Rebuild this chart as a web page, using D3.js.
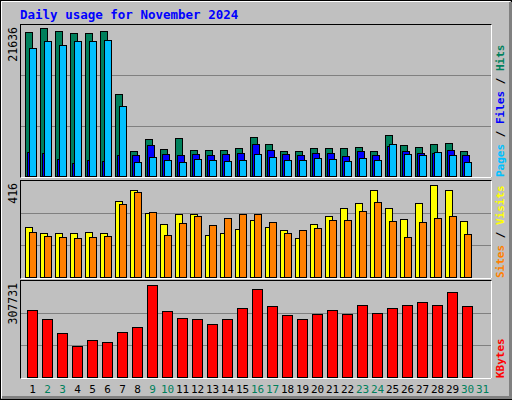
<!DOCTYPE html>
<html>
<head>
<meta charset="utf-8">
<script src="https://cdn.jsdelivr.net/npm/d3@7"></script>
<style>
  body { margin: 0; background: #fff; }
  text { font-family: "DejaVu Sans Mono", monospace; }
</style>
</head>
<body>
<svg id="chart" width="512" height="400"></svg>
<script>
// daily values
const days = d3.range(1, 32);
const weekendDays = [2, 3, 9, 10, 16, 17, 23, 24, 30, 31];
const hits = [20626, 21200, 20770, 20482, 20482, 20770, 11683, 3606, 5337, 3894, 5481, 3750, 3750, 3750, 4039, 5625,
  4616, 3606, 3606, 4039, 4039, 4039, 4183, 3606, 5914, 4472, 4183, 4616, 4760, 3606, 0];
const files = [3462, 3317, 2452, 1875, 2308, 2164, 3029, 3029, 4471, 3173, 3029, 3173, 3029, 3173, 3317, 4616,
  3750, 3173, 3029, 3317, 3317, 2885, 3606, 3029, 4327, 3606, 3317, 3317, 3750, 3029, 0];
const pages = [18318, 19329, 18751, 19329, 19329, 19473, 10097, 2019, 2740, 2308, 2019, 2452, 2308, 2164, 2308, 3173,
  2740, 2308, 2308, 2596, 2452, 2164, 2596, 2308, 4616, 3173, 3029, 3462, 3029, 2019, 0];
const visits = [216, 192, 192, 192, 196, 192, 331, 377, 276, 230, 272, 272, 184, 192, 209, 247,
  217, 205, 171, 230, 263, 297, 322, 377, 297, 251, 322, 398, 377, 242, 0];
const sites = [196, 179, 175, 167, 175, 179, 318, 369, 280, 184, 234, 263, 226, 255, 272, 272,
  238, 192, 205, 213, 247, 247, 284, 326, 242, 175, 238, 255, 263, 188, 0];
const kbytes = [213500, 185500, 142000, 98500, 117200, 111000, 145100, 160700, 294300, 210400, 188700, 185500, 170000, 185500, 219700, 281900,
  229100, 198000, 185500, 201100, 213500, 201100, 232200, 204200, 219700, 232200, 241500, 232200, 272600, 226000, 0];
const maxHits = 21636, maxVisits = 416, maxKbytes = 307731;

const svg = d3.select("#chart");
const grey = "#C0C0C0";

// outer frame
svg.append("rect").attr("width", 512).attr("height", 400).attr("fill", grey);
svg.append("rect").attr("x", 0.5).attr("y", 0.5).attr("width", 511).attr("height", 399)
  .attr("fill", "none").attr("stroke", "#000");
svg.append("path").attr("d", "M1.5,398 V1.5 H510").attr("stroke", "#fff").attr("fill", "none");
svg.append("path").attr("d", "M2,397.5 H510.5 V2").attr("stroke", "#808080").attr("stroke-width", 3).attr("fill", "none");

svg.append("text").attr("x", 20).attr("y", 19).attr("fill", "#0000FF")
  .attr("font-weight", "bold").attr("font-size", 12.5).text("Daily usage for November 2024");

// x position of a day
const x = d3.scaleLinear().domain([1, 31]).range([25, 25 + 30 * 15]);

function panel(top, bottom, max, series, labels) {
  // panel box
  svg.append("rect").attr("x", 20.5).attr("y", top + 0.5).attr("width", 471).attr("height", bottom - top)
    .attr("fill", grey).attr("stroke", "#000");
  svg.append("path").attr("d", `M20.5,${bottom + 0.5} H491.5 V${top + 0.5}`).attr("stroke", "#fff").attr("fill", "none");
  const base = bottom - 1;
  const h = (base - top - 1);
  const y = d3.scaleLinear().domain([0, max]).range([base, base - h]);
  // grid lines
  [1, 2].forEach(i => {
    svg.append("line").attr("x1", 21).attr("x2", 491)
      .attr("y1", Math.round(base - h * i / 3) + 0.5).attr("y2", Math.round(base - h * i / 3) + 0.5)
      .attr("stroke", "#808080");
  });
  series.forEach(s => {
    svg.append("g").selectAll("rect").data(s.values).join("rect")
      .filter(d => d > 0)
      .attr("x", (d, i) => x(i + 1) + s.off + 0.5)
      .attr("y", d => Math.round(y(d)) + 0.5)
      .attr("width", s.w)
      .attr("height", d => base - Math.round(y(d)))
      .attr("fill", s.color).attr("stroke", "#000");
  });
  // max label
  svg.append("text").attr("transform", `translate(17,${top + 3}) rotate(-90)`)
    .attr("text-anchor", "end").attr("font-size", 11.5).attr("fill", "#000")
    .attr("font-family", "DejaVu Sans").text(max);
  // right legend, bottom to top
  const t = svg.append("text").attr("transform", `translate(504,${bottom}) rotate(-90)`)
    .attr("font-size", 11).attr("font-weight", "bold");
  labels.forEach((l, i) => {
    if (i > 0) t.append("tspan").attr("fill", "#000").text("/");
    t.append("tspan").attr("fill", l[1]).text(l[0]);
  });
}

panel(24, 177, maxHits, [
  { values: hits, color: "#00805C", off: 0, w: 7 },
  { values: files, color: "#0000FF", off: 2, w: 7 },
  { values: pages, color: "#00C0FF", off: 4, w: 7 }
], [["Pages ", "#00C0FF"], [" Files ", "#0000FF"], [" Hits", "#00805C"]]);

panel(180, 278, maxVisits, [
  { values: visits, color: "#FFFF00", off: 0, w: 7 },
  { values: sites, color: "#FF8000", off: 4, w: 7 }
], [["Sites ", "#FF8000"], [" Visits", "#FFFF00"]]);

panel(280, 378, maxKbytes, [
  { values: kbytes, color: "#FF0000", off: 2, w: 10 }
], [["KBytes", "#FF0000"]]);

// day labels
svg.append("g").selectAll("text").data(days).join("text")
  .attr("x", d => x(d) + 7.5).attr("y", 393)
  .attr("text-anchor", "middle").attr("font-size", 11).attr("font-family", "DejaVu Sans")
  .attr("fill", d => weekendDays.includes(d) ? "#00805C" : "#000")
  .text(d => d);
</script>
</body>
</html>
